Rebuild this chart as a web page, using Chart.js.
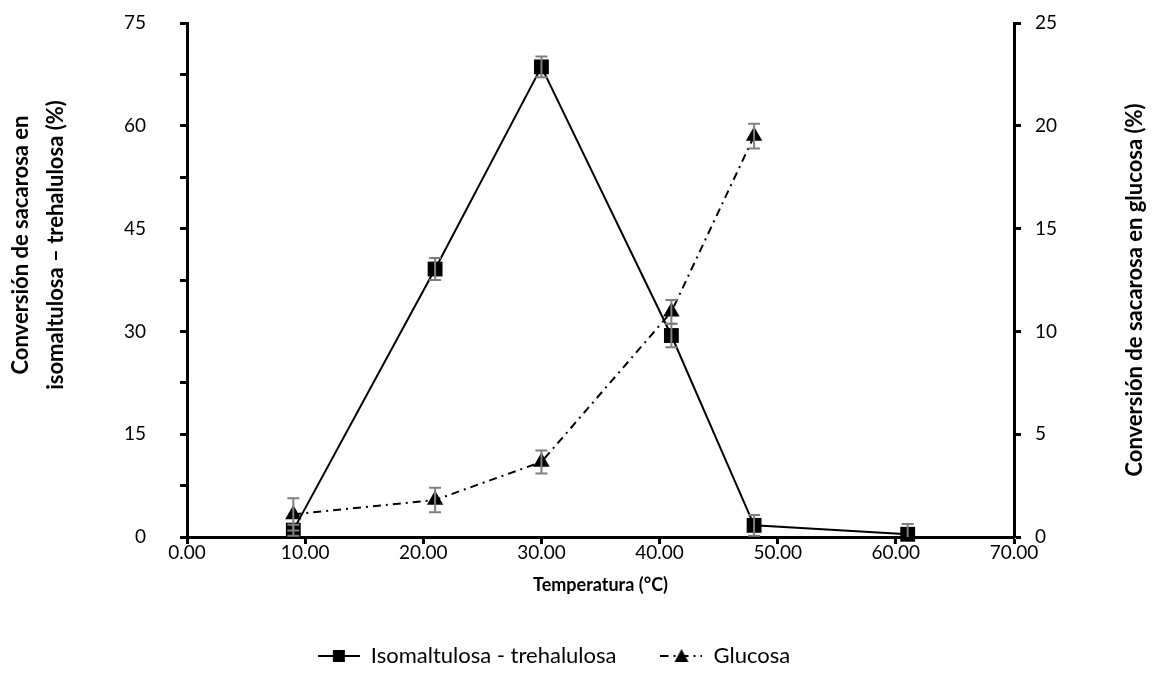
<!DOCTYPE html>
<html>
<head>
<meta charset="utf-8">
<script src="https://cdn.jsdelivr.net/npm/chart.js@4"></script>
<style>
  html, body { margin: 0; padding: 0; background: #fff; }
  #wrap { width: 1152px; height: 687px; position: relative; }
</style>
</head>
<body>
<div id="wrap"><canvas id="c" width="1152" height="687"></canvas></div>
<script>
// ---- Data ----
const temperatures = [9, 21, 30, 41, 48, 61];
const isoValues = [1.0, 39.1, 68.6, 29.4, 1.7, 0.4];
const isoErrors = [0.8, 1.6, 1.5, 1.7, 1.5, 1.5];
const glucTemperatures = [9, 21, 30, 41, 48];
const glucValues = [1.1, 1.8, 3.65, 10.95, 19.5];
const glucErrors = [0.78, 0.6, 0.56, 0.58, 0.6];
const xTicks = [0, 10, 20, 30, 40, 50, 60, 70];
const leftTicks = [0, 15, 30, 45, 60, 75];
const rightTicks = [0, 5, 10, 15, 20, 25];
const seriesNames = ['Isomaltulosa - trehalulosa', 'Glucosa'];
const xTitle = 'Temperatura (°C)';
const leftTitle = ['Conversión de sacarosa en', 'isomaltulosa – trehalulosa (%)'];
const rightTitle = 'Conversión de sacarosa en glucosa (%)';

Chart.defaults.font.family = 'Lato';
Chart.defaults.color = '#000';

function makeLegendImg(dash, marker) {
  const c = document.createElement('canvas');
  c.width = 42; c.height = 20;
  const g = c.getContext('2d');
  g.strokeStyle = '#000'; g.lineWidth = 2; g.setLineDash(dash);
  g.beginPath(); g.moveTo(0, 10); g.lineTo(42, 10); g.stroke();
  g.setLineDash([]); g.fillStyle = '#000';
  if (marker === 'rect') {
    g.fillRect(15, 4, 12, 12);
  } else {
    g.beginPath(); g.moveTo(21, 3); g.lineTo(28, 16); g.lineTo(14, 16); g.closePath(); g.fill();
  }
  return c;
}
const legendImgs = [makeLegendImg([], 'rect'), makeLegendImg([8, 5, 2, 5], 'tri')];

const errorBarPlugin = {
  id: 'errorBars',
  afterDatasetsDraw(chart) {
    const ctx = chart.ctx;
    const a = chart.chartArea;
    ctx.save();
    ctx.beginPath();
    ctx.rect(a.left - 30, a.top - 30, a.right - a.left + 60, a.bottom - a.top + 30);
    ctx.clip();
    ctx.strokeStyle = '#7f7f7f';
    ctx.lineWidth = 2;
    chart.data.datasets.forEach((ds) => {
      const ys = chart.scales[ds.yAxisID];
      const xs = chart.scales.x;
      ds.errors.forEach((e, j) => {
        const p = ds.data[j];
        const x = xs.getPixelForValue(p.x);
        const yT = ys.getPixelForValue(p.y + e);
        const yB = ys.getPixelForValue(p.y - e);
        ctx.beginPath();
        ctx.moveTo(x, yT); ctx.lineTo(x, yB);
        ctx.moveTo(x - 6, yT); ctx.lineTo(x + 6, yT);
        ctx.moveTo(x - 6, yB); ctx.lineTo(x + 6, yB);
        ctx.stroke();
      });
    });
    ctx.restore();
  }
};

const titlesPlugin = {
  id: 'sideTitles',
  afterLayout(chart) {
    // shift the legend slightly left, as in the reference
    if (chart.legend) { chart.legend.left -= 22; chart.legend.right -= 22; }
  },
  afterDraw(chart) {
    const ctx = chart.ctx;
    ctx.save();
    ctx.font = 'bold 22px Lato';
    ctx.fillStyle = '#000';
    ctx.textAlign = 'center';
    ctx.textBaseline = 'middle';
    // left title (two lines)
    ctx.save();
    ctx.translate(21, 245);
    ctx.rotate(-Math.PI / 2);
    ctx.fillText(leftTitle[0], 0, 0);
    ctx.fillText(leftTitle[1], 0, 35);
    ctx.restore();
    // right title
    ctx.save();
    ctx.translate(1135, 290);
    ctx.rotate(-Math.PI / 2);
    ctx.fillText(rightTitle, 0, 0);
    ctx.restore();
    ctx.restore();
  }
};

const axisGrid = { display: true, drawOnChartArea: false, drawTicks: true, tickLength: 7, tickWidth: 3, tickColor: '#000' };
const axisBorder = { display: true, color: '#000', width: 3 };

new Chart(document.getElementById('c'), {
  type: 'scatter',
  data: {
    datasets: [
      {
        label: seriesNames[0],
        data: temperatures.map((t, i) => ({ x: t, y: isoValues[i] })),
        errors: isoErrors,
        yAxisID: 'y',
        showLine: true,
        borderColor: '#000',
        backgroundColor: '#000',
        borderWidth: 2,
        pointStyle: 'rect',
        pointRadius: 10.5,
        pointHoverRadius: 10.5,
        pointBorderWidth: 0,
        tension: 0,
        clip: false
      },
      {
        label: seriesNames[1],
        data: glucTemperatures.map((t, i) => ({ x: t, y: glucValues[i] })),
        errors: glucErrors,
        yAxisID: 'y2',
        showLine: true,
        borderColor: '#000',
        backgroundColor: '#000',
        borderWidth: 2,
        borderDash: [8, 5, 2, 5],
        pointStyle: 'triangle',
        pointRadius: 9.5,
        pointHoverRadius: 9.5,
        pointBorderWidth: 0,
        tension: 0,
        clip: false
      }
    ]
  },
  options: {
    responsive: false,
    animation: false,
    layout: { padding: { top: 23, left: 0, right: 0, bottom: 10 } },
    scales: {
      x: {
        type: 'linear',
        min: xTicks[0],
        max: xTicks[xTicks.length - 1],
        afterBuildTicks: (s) => { s.ticks = xTicks.map(v => ({ value: v })); },
        afterFit: (s) => { s.height = 64; },
        grid: axisGrid,
        border: axisBorder,
        ticks: { font: { size: 19 }, color: '#000', padding: -3, maxRotation: 0, callback: (v) => Number(v).toFixed(2) },
        title: { display: true, text: xTitle, font: { size: 18, weight: 'bold' }, color: '#000', padding: { top: 0, bottom: 5 } }
      },
      y: {
        type: 'linear',
        position: 'left',
        min: 0,
        max: 75,
        ticks: { stepSize: 7.5, font: { size: 19 }, color: '#000', padding: 34,
          callback: (v) => leftTicks.includes(v) ? String(v) : '' },
        afterFit: (s) => { s.width = 187; s.paddingTop = 0; s.paddingBottom = 0; },
        grid: axisGrid,
        border: axisBorder
      },
      y2: {
        type: 'linear',
        position: 'right',
        min: 0,
        max: 25,
        afterBuildTicks: (s) => { s.ticks = rightTicks.map(v => ({ value: v })); },
        ticks: { font: { size: 19 }, color: '#000', padding: 14 },
        afterFit: (s) => { s.width = 138; s.paddingTop = 0; s.paddingBottom = 0; },
        grid: axisGrid,
        border: axisBorder
      }
    },
    plugins: {
      legend: {
        position: 'bottom',
        labels: {
          usePointStyle: true,
          pointStyleWidth: 42,
          padding: 44,
          color: '#000',
          font: { size: 22 },
          generateLabels: (chart) => {
            const items = Chart.defaults.plugins.legend.labels.generateLabels(chart);
            items.forEach((it, i) => { it.pointStyle = legendImgs[i]; });
            return items;
          }
        }
      },
      tooltip: { enabled: false }
    }
  },
  plugins: [errorBarPlugin, titlesPlugin]
});
</script>
</body>
</html>
